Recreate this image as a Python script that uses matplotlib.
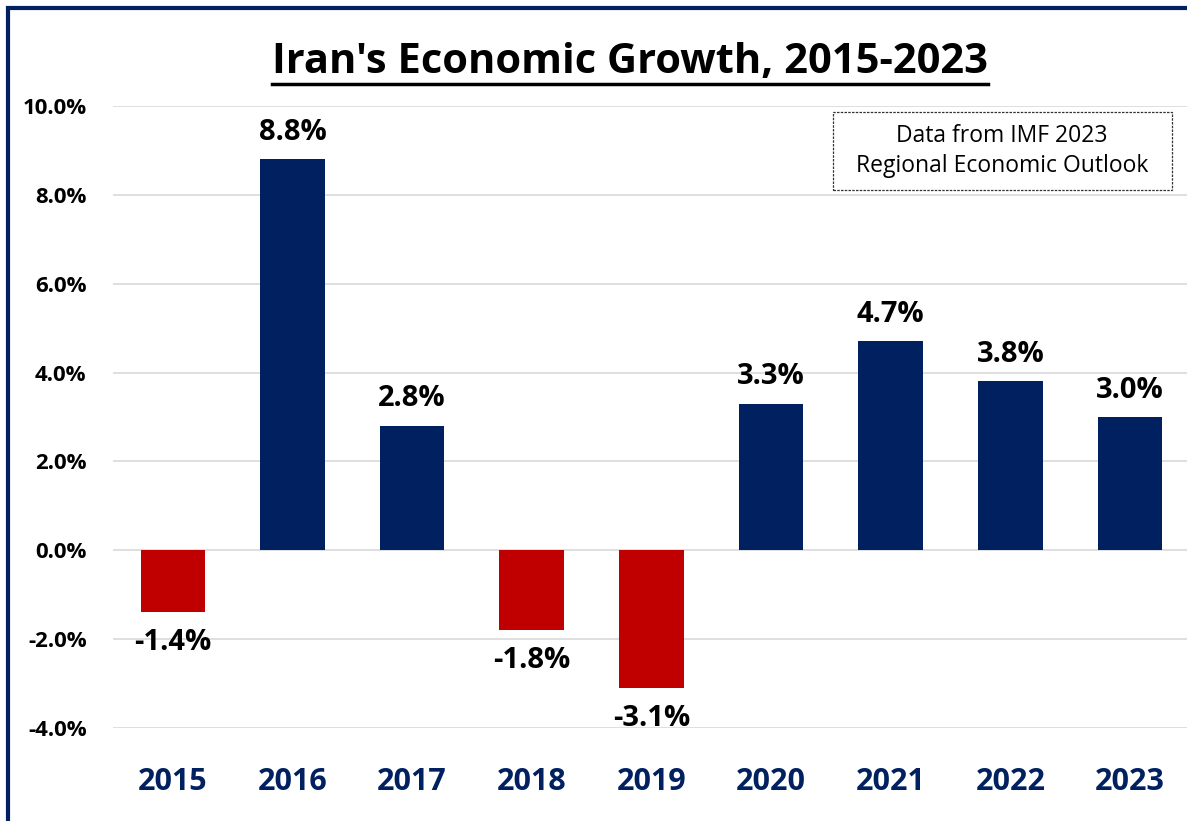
import numpy as np
import matplotlib.pyplot as plt
from matplotlib.patches import Rectangle
from matplotlib.lines import Line2D

years = ['2015', '2016', '2017', '2018', '2019', '2020', '2021', '2022', '2023']
growth = [-1.4, 8.8, 2.8, -1.8, -3.1, 3.3, 4.7, 3.8, 3.0]
yticks = [-4, -2, 0, 2, 4, 6, 8, 10]

navy = '#002060'
red = '#C00000'
plt.rcParams['font.family'] = ['Open Sans', 'DejaVu Sans']

W, H = 1187, 821
fig = plt.figure(figsize=(W / 100, H / 100), dpi=100)

# plot area in pixels: left 113, right past the image edge, top 106, bottom 728
ax = fig.add_axes([113 / W, 1 - 728 / H, (W - 113) / W, (728 - 106) / H])
x = np.arange(len(years))
colors = [navy if v >= 0 else red for v in growth]
ax.bar(x, growth, width=0.54, color=colors, zorder=3)

for xi, v in zip(x, growth):
    off = 27 if v >= 0 else -30
    ax.annotate(f'{v:.1f}%', (xi, v), xytext=(0, off), textcoords='offset pixels',
                ha='center', va='center', fontsize=21, fontweight='bold', color='black')

ax.set_xlim(-0.5, (W - 172) / 119.75)
ax.set_ylim(-4, 10)
ax.set_yticks(yticks)
ax.set_yticklabels([f'{t:.1f}%' for t in yticks], fontsize=16, fontweight='bold')
ax.set_xticks(x)
ax.set_xticklabels(years, fontsize=22, fontweight='bold', color=navy)
ax.tick_params(axis='both', length=0)
ax.tick_params(axis='y', pad=19)
ax.tick_params(axis='x', pad=28)
ax.yaxis.grid(True, color='#D9D9D9', linewidth=1.2, zorder=0)
for s in ax.spines.values():
    s.set_visible(False)

# note box
fig.add_artist(Rectangle((833 / W, 1 - 190 / H), (1172 - 833) / W, 78 / H,
                         transform=fig.transFigure, fc='white', ec='#333333',
                         lw=0.9, ls=(0, (2, 1)), zorder=5))
fig.text(1002 / W, 1 - 151 / H, 'Data from IMF 2023\nRegional Economic Outlook',
         ha='center', va='center', fontsize=16.5, linespacing=1.35, zorder=6)

# title with underline
title = fig.text(630 / W, 1 - 62 / H, "Iran's Economic Growth, 2015-2023",
                 ha='center', va='center', fontsize=30, fontweight='bold')
fig.canvas.draw()
bb = title.get_window_extent().transformed(fig.transFigure.inverted())
fig.add_artist(Line2D([bb.x0, bb.x1], [1 - 84 / H] * 2, transform=fig.transFigure,
                      color='black', lw=2.5))

# outer border (only top and left visible in the crop)
fig.add_artist(Rectangle((8 / W, -0.1), 1.2, 1.1 - 8 / H, transform=fig.transFigure,
                         fill=False, ec=navy, lw=3))

fig.savefig('out.png', dpi=100)
